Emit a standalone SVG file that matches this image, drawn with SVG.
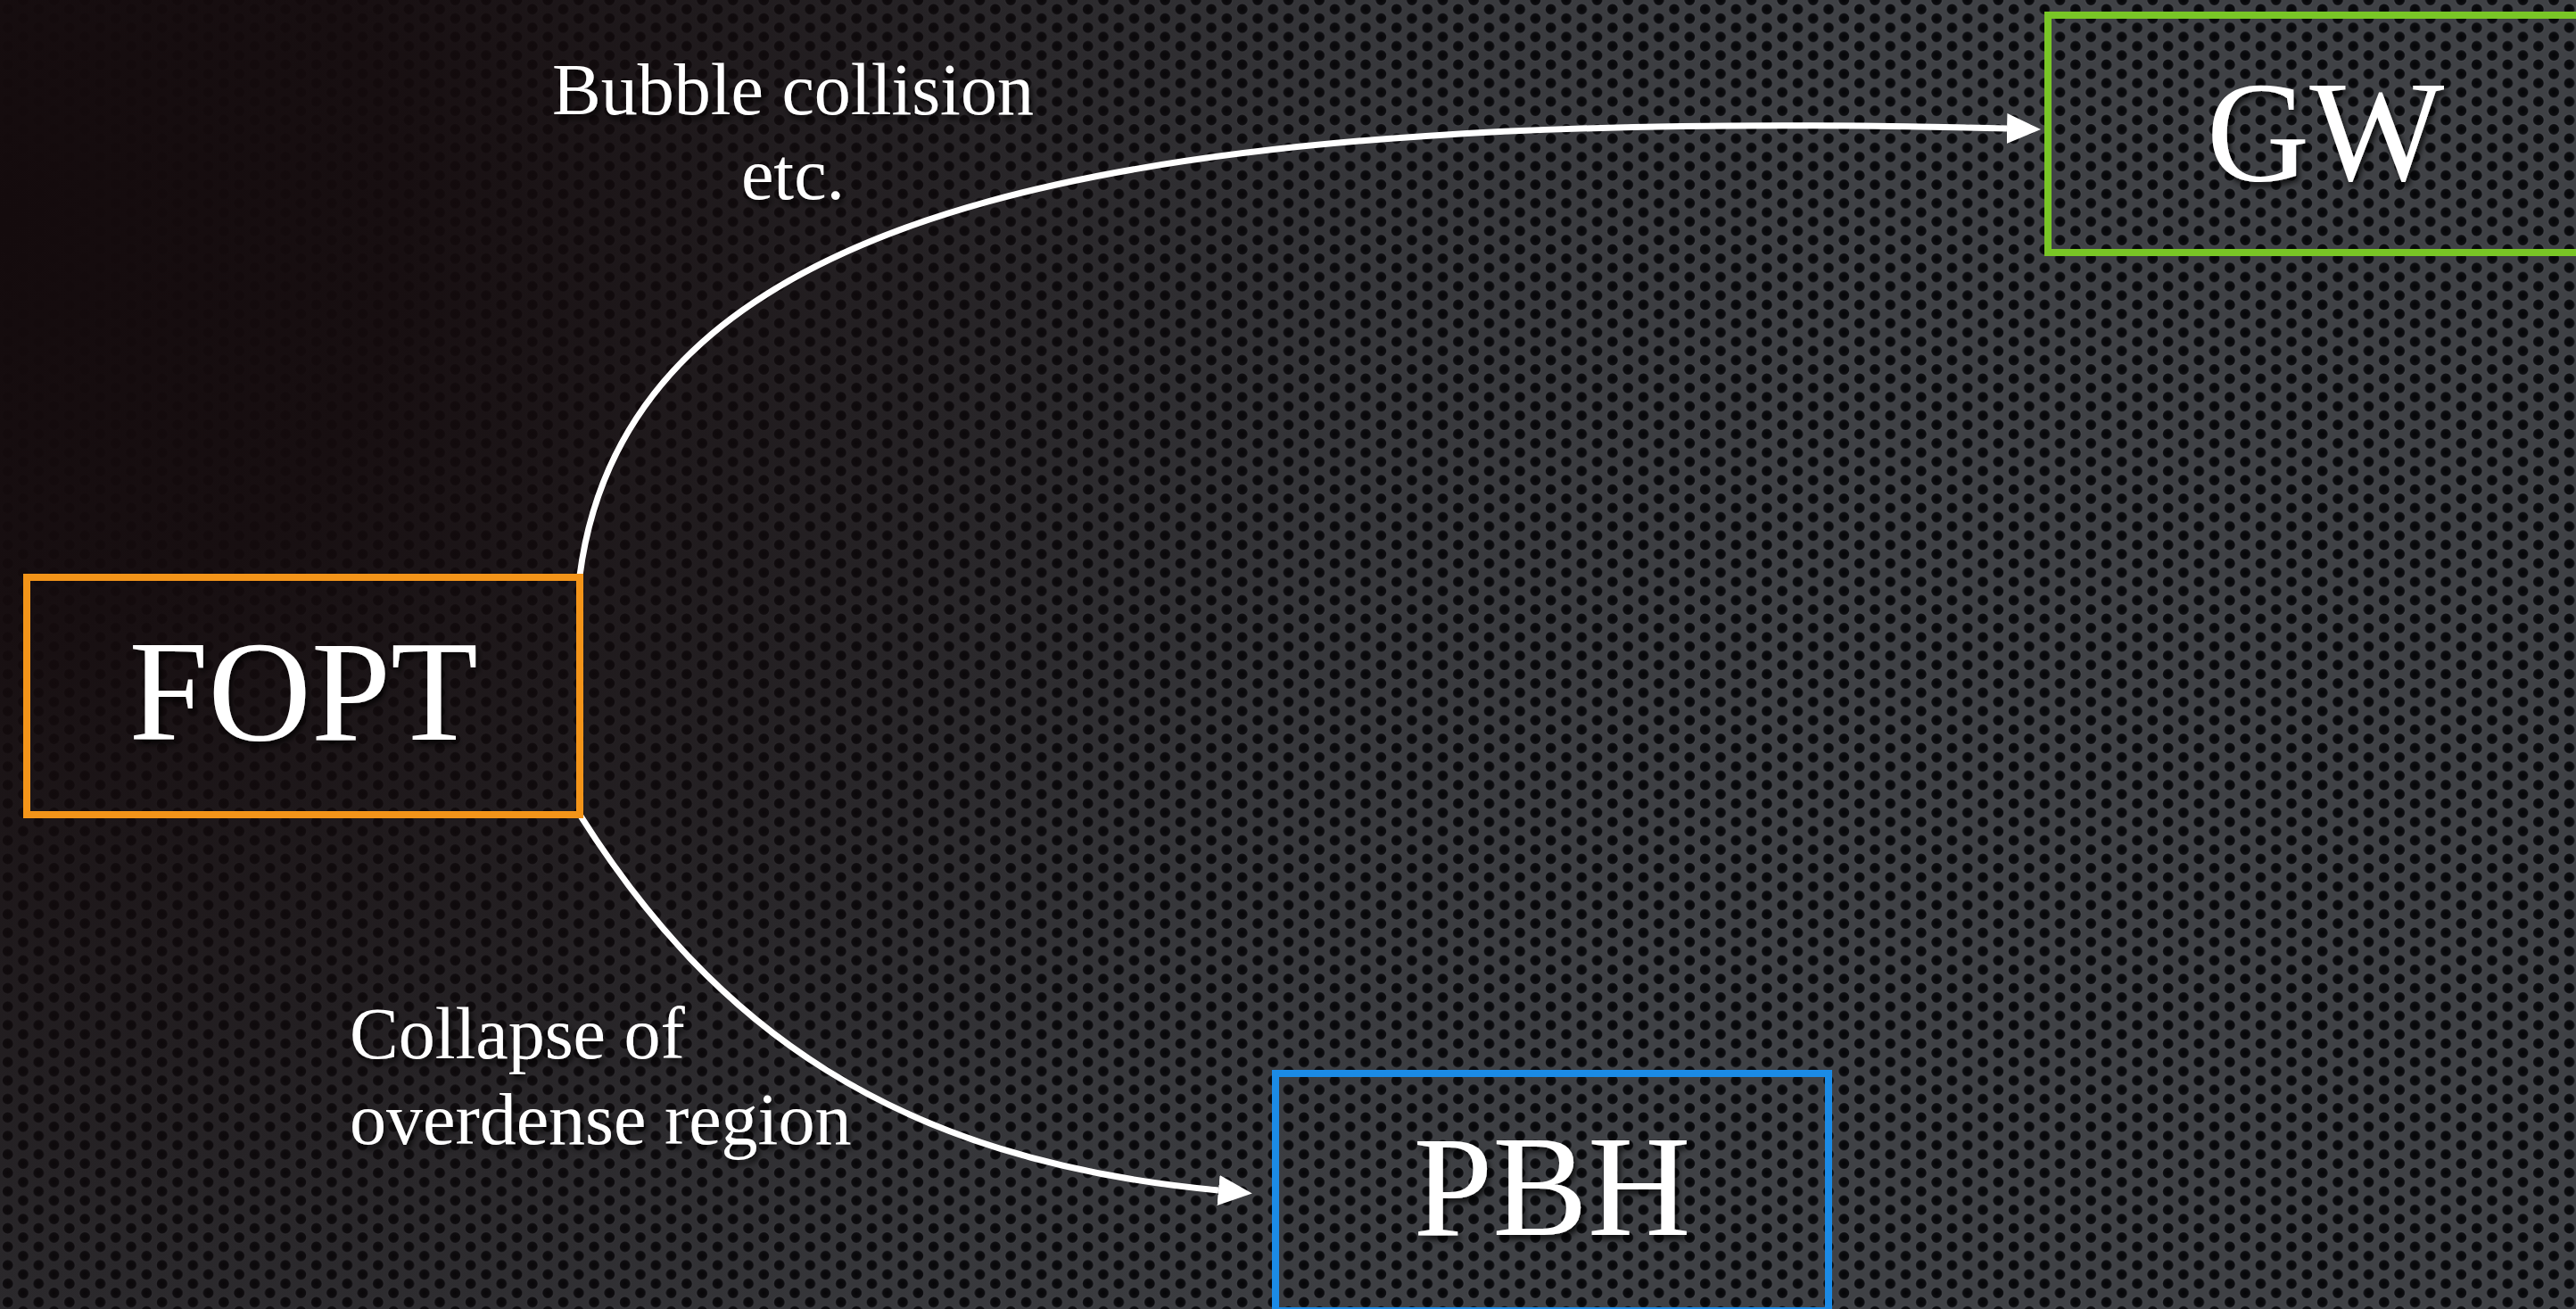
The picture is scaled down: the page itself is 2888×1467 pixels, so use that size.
<svg xmlns="http://www.w3.org/2000/svg" width="2888" height="1467" viewBox="0 0 2888 1467">
  <defs>
    <radialGradient id="holeFill" cx="0.5" cy="0.5" r="0.5">
      <stop offset="0" stop-color="#050507"/>
      <stop offset="0.8" stop-color="#0c0d10"/>
      <stop offset="1" stop-color="#1a1b1f"/>
    </radialGradient>
    <pattern id="mesh" patternUnits="userSpaceOnUse" width="34.6" height="20.7">
      <rect width="34.6" height="20.7" fill="#404246"/>
      <g fill="url(#holeFill)" stroke="#55585d" stroke-width="1" stroke-opacity="0.55">
        <circle cx="8.65" cy="10.35" r="6.4"/>
        <circle cx="25.95" cy="0" r="6.4"/>
        <circle cx="25.95" cy="20.7" r="6.4"/>
      </g>
    </pattern>
    <radialGradient id="vignette" gradientUnits="userSpaceOnUse" cx="0" cy="250" r="2050">
      <stop offset="0" stop-color="#140b0d" stop-opacity="1"/>
      <stop offset="0.22" stop-color="#140b0d" stop-opacity="0.93"/>
      <stop offset="0.5" stop-color="#120b0d" stop-opacity="0.6"/>
      <stop offset="0.75" stop-color="#100b0d" stop-opacity="0.2"/>
      <stop offset="1" stop-color="#100b0d" stop-opacity="0.02"/>
    </radialGradient>
    <filter id="shadow" x="-10%" y="-20%" width="130%" height="150%">
      <feDropShadow dx="3" dy="5" stdDeviation="3" flood-color="#000" flood-opacity="0.75"/>
    </filter>
    <marker id="arrow" markerUnits="userSpaceOnUse" markerWidth="42" markerHeight="38" refX="0" refY="17" orient="auto">
      <path d="M0,0 L38,17 L0,34 z" fill="#ffffff"/>
    </marker>
    <style>
      .box { fill: none; stroke-width: 8; }
      .node-label { font-family: "Liberation Serif", "Times New Roman", serif; font-size: 160px; fill: #ffffff; text-anchor: middle; filter: url(#shadow); }
      .edge-label { font-family: "Liberation Serif", "Times New Roman", serif; font-size: 82px; fill: #ffffff; filter: url(#shadow); }
      .edge { fill: none; stroke: #ffffff; stroke-width: 7; marker-end: url(#arrow); }
    </style>
  </defs>

  <rect x="0" y="0" width="2888" height="1467" fill="url(#mesh)"/>
  <rect x="0" y="0" width="2888" height="1467" fill="url(#vignette)"/>

  <g id="connectors">
    <path class="edge" d="M650,645 C705,220 1280,120 2250,144"/>
    <path class="edge" d="M650,913 C800,1150 1000,1300 1366,1334"/>
    <text class="edge-label" x="889" y="128" text-anchor="middle">Bubble collision</text>
    <text class="edge-label" x="889" y="223" text-anchor="middle">etc.</text>
    <text class="edge-label" x="392" y="1186">Collapse of</text>
    <text class="edge-label" x="392" y="1282">overdense region</text>
  </g>

  <g id="node-fopt">
    <rect class="box" x="30" y="647" width="620" height="266" stroke="#f39419"/>
    <text class="node-label" x="340" y="829">FOPT</text>
  </g>

  <g id="node-gw">
    <rect class="box" x="2296" y="17" width="620" height="266" stroke="#79c626"/>
    <text class="node-label" x="2607" y="202">GW</text>
  </g>

  <g id="node-pbh">
    <rect class="box" x="1430" y="1203" width="620" height="266" stroke="#1b8be6"/>
    <text class="node-label" x="1740" y="1384">PBH</text>
  </g>
</svg>
